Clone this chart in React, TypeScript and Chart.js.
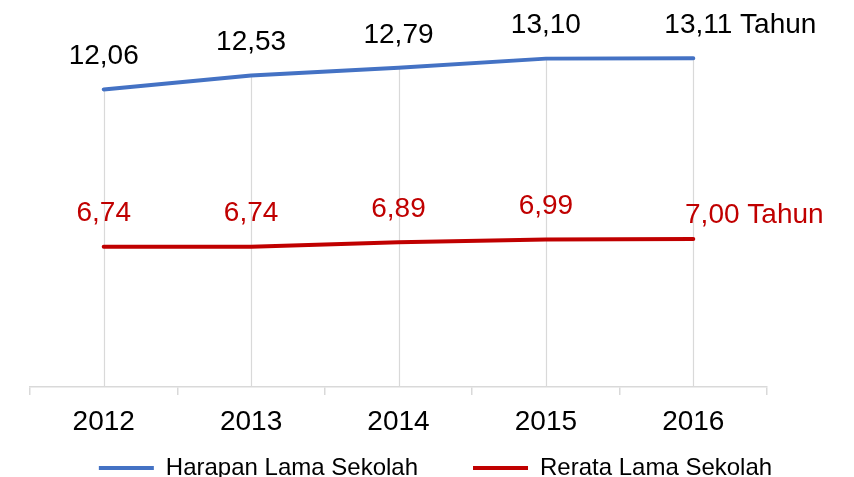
import React, { useEffect, useRef } from 'react';
import { Chart, registerables } from 'chart.js';

Chart.register(...registerables);

const years = ['2012', '2013', '2014', '2015', '2016'];
const harapanLamaSekolah = [12.06, 12.53, 12.79, 13.1, 13.11];
const rerataLamaSekolah = [6.74, 6.74, 6.89, 6.99, 7.0];
const seriesNames = ['Harapan Lama Sekolah', 'Rerata Lama Sekolah'];
const unitLabel = 'Tahun';
const yMin = 2;
const yMax = 14;

const BLUE = '#4472C4';
const RED = '#C00000';
const GRID = '#D9D9D9';
const FONT = '"Liberation Sans", Arial, Helvetica, sans-serif';

const dropLines = {
  id: 'dropLines',
  beforeDatasetsDraw(chart: any) {
    const meta = chart.getDatasetMeta(0);
    const bottom = chart.chartArea.bottom;
    const ctx = chart.ctx;
    ctx.save();
    ctx.strokeStyle = GRID;
    ctx.lineWidth = 1.2;
    meta.data.forEach((pt: any) => {
      const x = Math.round(pt.x) + 0.5;
      ctx.beginPath();
      ctx.moveTo(x, pt.y);
      ctx.lineTo(x, bottom);
      ctx.stroke();
    });
    ctx.restore();
  },
};

const valueLabels = {
  id: 'valueLabels',
  afterDatasetsDraw(chart: any, _args: any, opts: any) {
    const ctx = chart.ctx;
    ctx.save();
    ctx.font = `${opts.size}px ${FONT}`;
    ctx.textBaseline = 'middle';
    chart.data.datasets.forEach((ds: any, di: number) => {
      const meta = chart.getDatasetMeta(di);
      ctx.fillStyle = opts.colors[di];
      meta.data.forEach((pt: any, i: number) => {
        const v = ds.data[i] as number;
        const txt = v.toFixed(2).replace('.', ',');
        const last = i === meta.data.length - 1;
        const off = last ? opts.lastOffsets[di] : { dx: 0, dy: opts.dy };
        const cx = pt.x + off.dx;
        const cy = pt.y + off.dy;
        if (last) {
          const w = ctx.measureText(txt).width;
          ctx.textAlign = 'left';
          ctx.fillText(`${txt} ${unitLabel}`, cx - w / 2, cy);
        } else {
          ctx.textAlign = 'center';
          ctx.fillText(txt, cx, cy);
        }
      });
    });
    ctx.restore();
  },
};

export default function App() {
  const ref = useRef<HTMLCanvasElement>(null);
  useEffect(() => {
    document.body.style.margin = '0';
    document.body.style.overflow = 'hidden';
    const chart = new Chart(ref.current as HTMLCanvasElement, {
      type: 'line',
      data: {
        labels: years,
        datasets: [
          {
            label: seriesNames[0],
            data: harapanLamaSekolah,
            borderColor: BLUE,
            backgroundColor: BLUE,
            borderWidth: 4,
            pointRadius: 0,
            tension: 0,
            borderCapStyle: 'round',
            borderJoinStyle: 'round',
            fill: false,
            yAxisID: 'y',
          },
          {
            label: seriesNames[1],
            data: rerataLamaSekolah,
            borderColor: RED,
            backgroundColor: RED,
            borderWidth: 4,
            pointRadius: 0,
            tension: 0,
            borderCapStyle: 'round',
            borderJoinStyle: 'round',
            fill: false,
            yAxisID: 'y',
          },
        ],
      },
      options: {
        responsive: false,
        animation: false,
        events: [],
        layout: { padding: { left: 17, right: 0, top: 32, bottom: 0 } },
        scales: {
          x: {
            offset: true,
            grid: {
              offset: true,
              drawOnChartArea: false,
              drawTicks: true,
              tickLength: 8,
              color: GRID,
              lineWidth: 1.5,
            },
            border: { display: true, color: GRID, width: 1.5 },
            ticks: {
              color: '#000',
              font: { size: 28, family: FONT },
              padding: -52,
              mirror: true,
              maxRotation: 0,
              autoSkip: false,
            },
            afterFit: (s: any) => {
              s.height = 14;
            },
          },
          y: {
            min: yMin,
            max: yMax,
            display: true,
            ticks: { display: false },
            grid: { display: false },
            border: { display: false },
            afterFit: (s: any) => {
              s.width = 13;
            },
          },
          yR: {
            type: 'linear',
            position: 'right',
            display: true,
            ticks: { display: false },
            grid: { display: false },
            border: { display: false },
            afterFit: (s: any) => {
              s.width = 87;
            },
          },
        },
        plugins: {
          tooltip: { enabled: false },
          legend: {
            display: true,
            position: 'bottom',
            labels: {
              color: '#000',
              font: { size: 24, family: FONT },
              boxWidth: 55,
              boxHeight: 4,
              padding: 55,
              generateLabels: (c: any) =>
                Chart.defaults.plugins.legend.labels
                  .generateLabels(c)
                  .map((l: any) => ({ ...l, lineWidth: 0, fillStyle: l.strokeStyle })),
            },
          },
          valueLabels: {
            size: 28,
            dy: -33,
            colors: ['#000000', RED],
            lastOffsets: [
              { dx: 5, dy: -33 },
              { dx: 19, dy: -24 },
            ],
          },
        } as any,
      },
      plugins: [dropLines, valueLabels],
    } as any);
    return () => chart.destroy();
  }, []);
  return (
    <canvas
      ref={ref}
      width={854}
      height={490}
      style={{ display: 'block', position: 'fixed', left: 0, top: 0 }}
    />
  );
}
